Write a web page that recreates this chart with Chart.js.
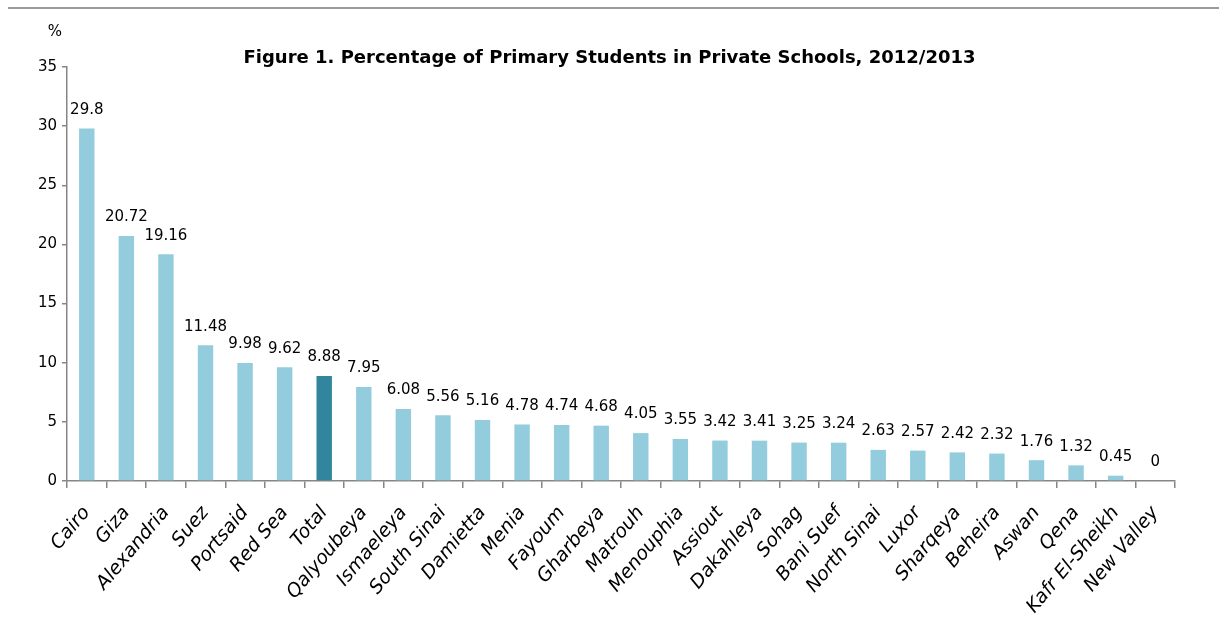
<!DOCTYPE html>
<html><head><meta charset="utf-8">
<script src="https://cdn.jsdelivr.net/npm/chart.js@4.4.1/dist/chart.umd.min.js"></script>
<style>
html,body{margin:0;padding:0;background:#fff;}
#wrap{position:relative;width:1219px;height:632px;}
#topline{position:absolute;left:8px;right:0;top:7px;height:0;border-top:2px solid #9a9a9a;}
</style></head>
<body>
<div id="wrap"><div id="topline"></div><canvas id="c" width="1219" height="632"></canvas></div>
<script>
const categories = ["Cairo","Giza","Alexandria","Suez","Portsaid","Red Sea","Total","Qalyoubeya","Ismaeleya","South Sinai","Damietta","Menia","Fayoum","Gharbeya","Matrouh","Menouphia","Assiout","Dakahleya","Sohag","Bani Suef","North Sinai","Luxor","Sharqeya","Beheira","Aswan","Qena","Kafr El-Sheikh","New Valley"];
const values = [29.8,20.72,19.16,11.48,9.98,9.62,8.88,7.95,6.08,5.56,5.16,4.78,4.74,4.68,4.05,3.55,3.42,3.41,3.25,3.24,2.63,2.57,2.42,2.32,1.76,1.32,0.45,0];
const valueLabels = ["29.8","20.72","19.16","11.48","9.98","9.62","8.88","7.95","6.08","5.56","5.16","4.78","4.74","4.68","4.05","3.55","3.42","3.41","3.25","3.24","2.63","2.57","2.42","2.32","1.76","1.32","0.45","0"];
const yTicks = [0,5,10,15,20,25,30,35];
const titleText = "Figure 1. Percentage of Primary Students in Private Schools, 2012/2013";
const unitText = "%";

const FONT = "'DejaVu Sans', Verdana, sans-serif";
const barColors = categories.map(c => c === "Total" ? "#31859C" : "#93CDDD");

const labelPlugin = {
  id: 'valueLabels',
  afterDatasetsDraw(chart) {
    const ctx = chart.ctx;
    const meta = chart.getDatasetMeta(0);
    ctx.save();
    ctx.font = "15px " + FONT;
    ctx.fillStyle = "#000";
    ctx.textAlign = "center";
    ctx.textBaseline = "bottom";
    meta.data.forEach((el, i) => {
      ctx.fillText(valueLabels[i], el.x, el.y - 11);
    });
    ctx.restore();
  },
  afterDraw(chart) {
    const ctx = chart.ctx;
    ctx.save();
    ctx.fillStyle = "#000";
    ctx.textAlign = "center";
    ctx.textBaseline = "middle";
    ctx.font = "15px " + FONT;
    ctx.fillText(unitText, chart.scales.y.left + 55, 32);
    ctx.font = "bold 18px " + FONT;
    ctx.fillText(titleText, chart.width / 2, 58);
    ctx.restore();
  }
};

new Chart(document.getElementById('c'), {
  type: 'bar',
  data: {
    labels: categories,
    datasets: [{ data: values, backgroundColor: barColors, categoryPercentage: 1, barPercentage: 0.39 }]
  },
  options: {
    responsive: false,
    animation: false,
    layout: { padding: { left: 0, right: 44, top: 67, bottom: 0 } },
    plugins: {
      legend: { display: false },
      tooltip: { enabled: false },
      title: { display: false }
    },
    scales: {
      x: {
        afterFit(s) { s.height = 151; },
        grid: { display: true, drawOnChartArea: false, offset: true, tickLength: 7, color: "#868686", lineWidth: 1.5 },
        border: { color: "#868686", width: 1.5 },
        ticks: { color: "#000", maxRotation: 50, minRotation: 50, autoSkip: false, padding: 14,
          font: { family: FONT, size: 19, style: 'italic' } }
      },
      y: {
        min: 0, max: 35,
        afterFit(s) { s.width = 67; },
        afterBuildTicks(s) { s.ticks = yTicks.map(v => ({ value: v })); },
        grid: { display: true, drawOnChartArea: false, tickLength: 5, color: "#868686", lineWidth: 1.5 },
        border: { color: "#868686", width: 1.5 },
        ticks: { color: "#000", padding: 5, font: { family: FONT, size: 15 } }
      }
    }
  },
  plugins: [labelPlugin]
});
</script>
</body></html>
